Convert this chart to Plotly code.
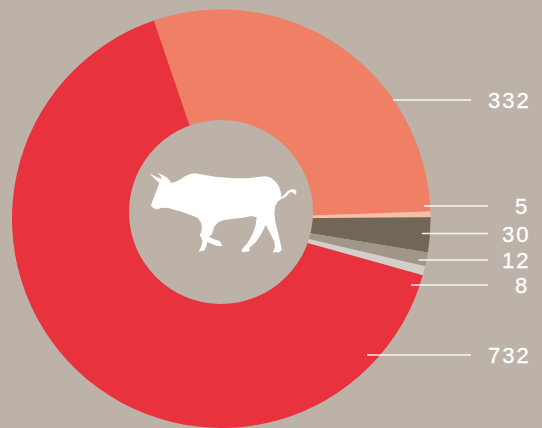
import plotly.graph_objects as go

W, H = 542, 428
BG = "#BCB2A7"

categories = ["a", "b", "c", "d", "e", "f"]
values = [332, 5, 30, 12, 8, 732]
colors = ["#EF8066", "#FBBFA8", "#716757", "#A0978A", "#D3CEC8", "#E8323D"]
tick_labels = ["332", "5", "30", "12", "8", "732"]
label_y = [100, 206, 233.5, 260, 285, 355]
line_x0 = [393, 424, 422, 418.5, 411, 367]
line_x1 = [471, 488, 488, 488, 488, 471]

# Bull silhouette outline, in pixels of a 3x crop whose corner is (120,110)
bull = [(93,287),(96,276),(102,262),(108,245),(114,230),(118,218),(105,207),(88,190),(108,200),(125,207),
        (122,198),(112,188),(128,195),(142,203),(150,212),(152,219),(165,216),(180,209),(195,199),(210,192),
        (225,190),(250,194),(285,200),(340,205),(385,205),(420,200),(440,199),(455,205),(468,216),(478,232),
        (483,250),(484,262),(492,256),(503,243),(515,238),(524,238),(530,245),(526,256),(521,248),(512,246),
        (505,252),(495,262),(483,268),(472,276),(465,290),(463,310),(466,335),(472,360),(478,385),(484,410),
        (485,420),(478,427),(458,427),(465,412),(463,395),(450,368),(437,345),(425,370),(408,396),(388,413),
        (389,424),(365,427),(366,418),(382,400),(398,372),(406,350),(410,322),(395,318),(368,323),(340,326),
        (312,330),(296,336),(284,348),(276,372),(267,380),(282,388),(300,394),(307,408),(292,408),(276,402),
        (262,396),(258,412),(254,421),(236,425),(243,412),(248,394),(240,376),(246,356),(244,340),(234,324),
        (214,316),(198,310),(180,304),(162,299),(145,294),(125,293),(112,298),(100,295)]


def px(x):
    return x / W


def py(y):
    return 1 - y / H


fig = go.Figure(go.Pie(
    labels=categories, values=values, sort=False, direction="clockwise", rotation=-18.8,
    marker=dict(colors=colors, line=dict(width=0)), textinfo="none", hoverinfo="skip",
    showlegend=False,
    domain=dict(x=[px(12), px(430.6)], y=[0, py(9.4)]),
))

shapes = [dict(type="circle", xref="paper", yref="paper", layer="above",
               x0=px(129), x1=px(313), y0=py(304), y1=py(120),
               fillcolor=BG, line=dict(width=0))]
path = "M" + " L".join(f"{px(120 + a / 3):.5f},{py(110 + b / 3):.5f}" for a, b in bull) + " Z"
shapes.append(dict(type="path", xref="paper", yref="paper", layer="above", path=path,
                   fillcolor="white", line=dict(width=0)))
annotations = []
for lab, y, x0, x1 in zip(tick_labels, label_y, line_x0, line_x1):
    shapes.append(dict(type="line", xref="paper", yref="paper", layer="above",
                       x0=px(x0), x1=px(x1), y0=py(y), y1=py(y),
                       line=dict(color="rgba(255,255,255,0.9)", width=1.3)))
    annotations.append(dict(xref="paper", yref="paper", x=px(529), y=py(y + 0.5), text=lab,
                            xanchor="right", yanchor="middle", showarrow=False, borderpad=0,
                            font=dict(family="Liberation Sans", size=22, color="white")))

fig.update_layout(width=W, height=H, margin=dict(l=0, r=0, t=0, b=0),
                  paper_bgcolor=BG, plot_bgcolor=BG, shapes=shapes, annotations=annotations,
                  showlegend=False)
fig.write_html("out.html", config={"displayModeBar": False},
               post_script=("document.body.style.margin='0';document.documentElement.style.overflow='hidden';"
                            "document.querySelectorAll('.annotation-text').forEach(function(t){"
                            "t.style.letterSpacing='2px';t.style.stroke='white';t.style.strokeWidth='0.3px';});"))
